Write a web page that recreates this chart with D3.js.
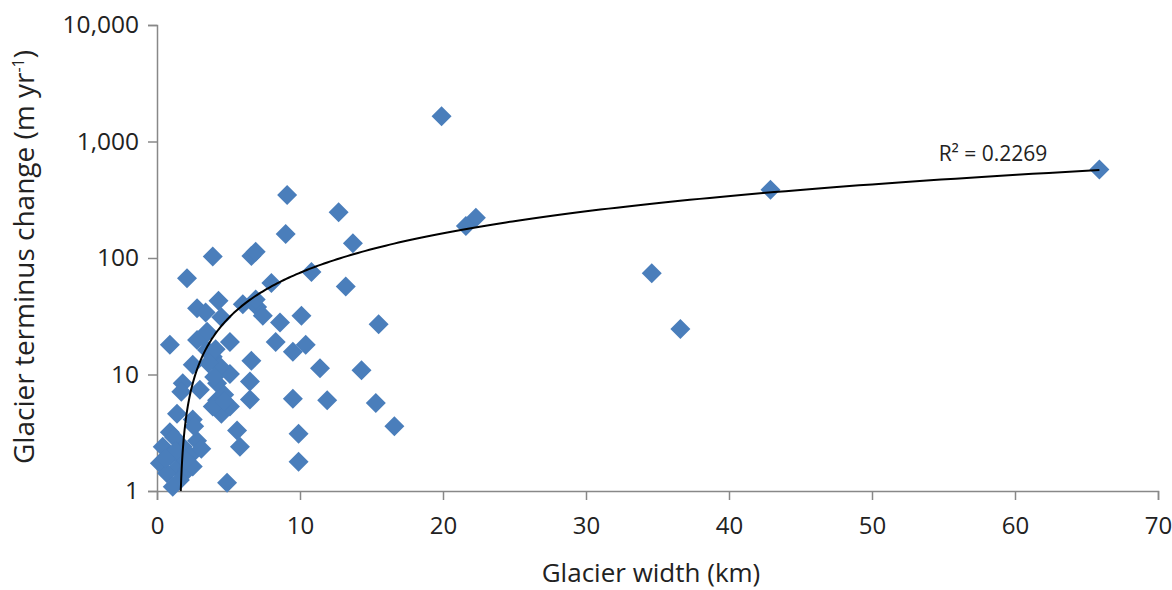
<!DOCTYPE html>
<html><head><meta charset="utf-8">
<script src="https://cdn.jsdelivr.net/npm/d3@7"></script>
<style>
body{margin:0;background:#fff;}
text{font-family:"Open Sans","Noto Sans",sans-serif;fill:#222;}
</style></head>
<body><svg id="c" width="1172" height="590"></svg>
<script>
const widthKm = [65.9,42.9,34.6,36.6,19.9,22.3,21.6,
 9.1,12.7,9.0,13.7,3.9,6.6,6.9,2.1,10.8,8.0,13.2,4.3,2.8,3.4,6.0,7.0,7.4,4.5,8.6,10.1,15.5,3.2,5.1,8.3,9.5,10.4,6.6,11.4,14.3,5.1,6.5,9.5,11.9,6.5,15.3,16.6,9.9,5.6,5.8,9.9,4.9,
 0.9,2.8,3.5,3.5,3.9,2.5,4.4,1.8,1.7,3.0,4.2,4.2,4.5,3.9,5.1,1.4,2.5,0.9,2.8,0.4,0.9,1.8,0.2,2.3,1.4,2.1,0.7,1.6,1.1,2.5,
 3.1,1.2,2.0,1.3,0.6,2.6,4.7,4.0,4.7,3.6,4.1,6.9];
const terminusChange = [575,385,74,24.6,1650,222,188,
 347,247,161,134,103,104,113,67,76,61,57,43,37,34,40,38,32,31,28,32,27,21,19,19,15.7,18,13.1,11.3,10.9,10.1,8.7,6.2,6.0,6.1,5.7,3.6,3.1,3.3,2.4,1.78,1.18,
 18,19.8,23.3,16.2,14.2,12.1,11.7,8.4,7.1,7.4,8.4,6.0,4.6,5.3,5.3,4.6,4.1,3.2,2.7,2.4,2.0,2.4,1.73,2.0,1.57,1.5,1.42,1.24,1.09,1.62,
 2.3,2.9,1.85,2.2,1.9,3.6,6.7,9.5,5.9,12.5,16.5,44];
const xTicks = [0,10,20,30,40,50,60,70];
const yTicks = [1,10,100,1000,10000];
const trendSlope = [8.84];
const trendIntercept = [-13.7];
const r2Label = ["R² = 0.2269"];

const svg = d3.select("#c");
const x = d3.scaleLinear().domain([0,70]).range([157,1158]);
const y = d3.scaleLog().domain([1,10000]).range([491,25]);
const axisColor = "#888";

// x axis
const xa = svg.append("g").attr("transform","translate(0,491)")
  .call(d3.axisBottom(x).tickValues(xTicks).tickSize(9).tickPadding(17).tickFormat(d3.format("d")));
xa.select(".domain").attr("stroke",axisColor).attr("stroke-width",1.5);
xa.selectAll(".tick line").attr("stroke",axisColor).attr("stroke-width",1.5);
xa.selectAll("text").style("font-size","24px").attr("fill","#222");

// y axis
const ya = svg.append("g").attr("transform","translate(157,0)")
  .call(d3.axisLeft(y).tickValues(yTicks).tickSize(9).tickPadding(9).tickFormat(d3.format(",")));
ya.select(".domain").attr("stroke",axisColor).attr("stroke-width",1.5);
ya.selectAll(".tick line").attr("stroke",axisColor).attr("stroke-width",1.5);
ya.selectAll("text").style("font-size","24.5px").attr("fill","#222");

// points
const pts = widthKm.map((w,i)=>({w, v: terminusChange[i]}));
svg.append("g").selectAll("path").data(pts).join("path")
  .attr("d","M0,-10L10,0L0,10L-10,0Z")
  .attr("transform",d=>`translate(${x(d.w)},${y(d.v)})`)
  .attr("fill","#4a7ebb");

// trendline
const x0 = (1 - trendIntercept[0]) / trendSlope[0];
const xEnd = d3.max(widthKm);
const tl = d3.range(0,201).map(i=>{const t=i/200; const xv = x0 * Math.pow(xEnd/x0, t); return [xv, trendSlope[0]*xv+trendIntercept[0]];});
svg.append("path").datum(tl)
  .attr("d", d3.line().x(d=>x(d[0])).y(d=>y(Math.max(1,d[1]))))
  .attr("fill","none").attr("stroke","#000").attr("stroke-width",2);

svg.append("text").attr("x",993).attr("y",161).attr("text-anchor","middle")
  .style("font-size","21px").text(r2Label[0]);

// axis titles
svg.append("text").attr("x",651).attr("y",582).attr("text-anchor","middle")
  .style("font-size","26px").text("Glacier width (km)");
const yt = svg.append("text").attr("transform","translate(34,257) rotate(-90)").attr("text-anchor","middle").style("font-size","28px");
yt.append("tspan").text("Glacier terminus change (m yr");
yt.append("tspan").attr("dy",-10).style("font-size","16px").text("-1");
yt.append("tspan").attr("dy",10).text(")");
</script></body></html>
